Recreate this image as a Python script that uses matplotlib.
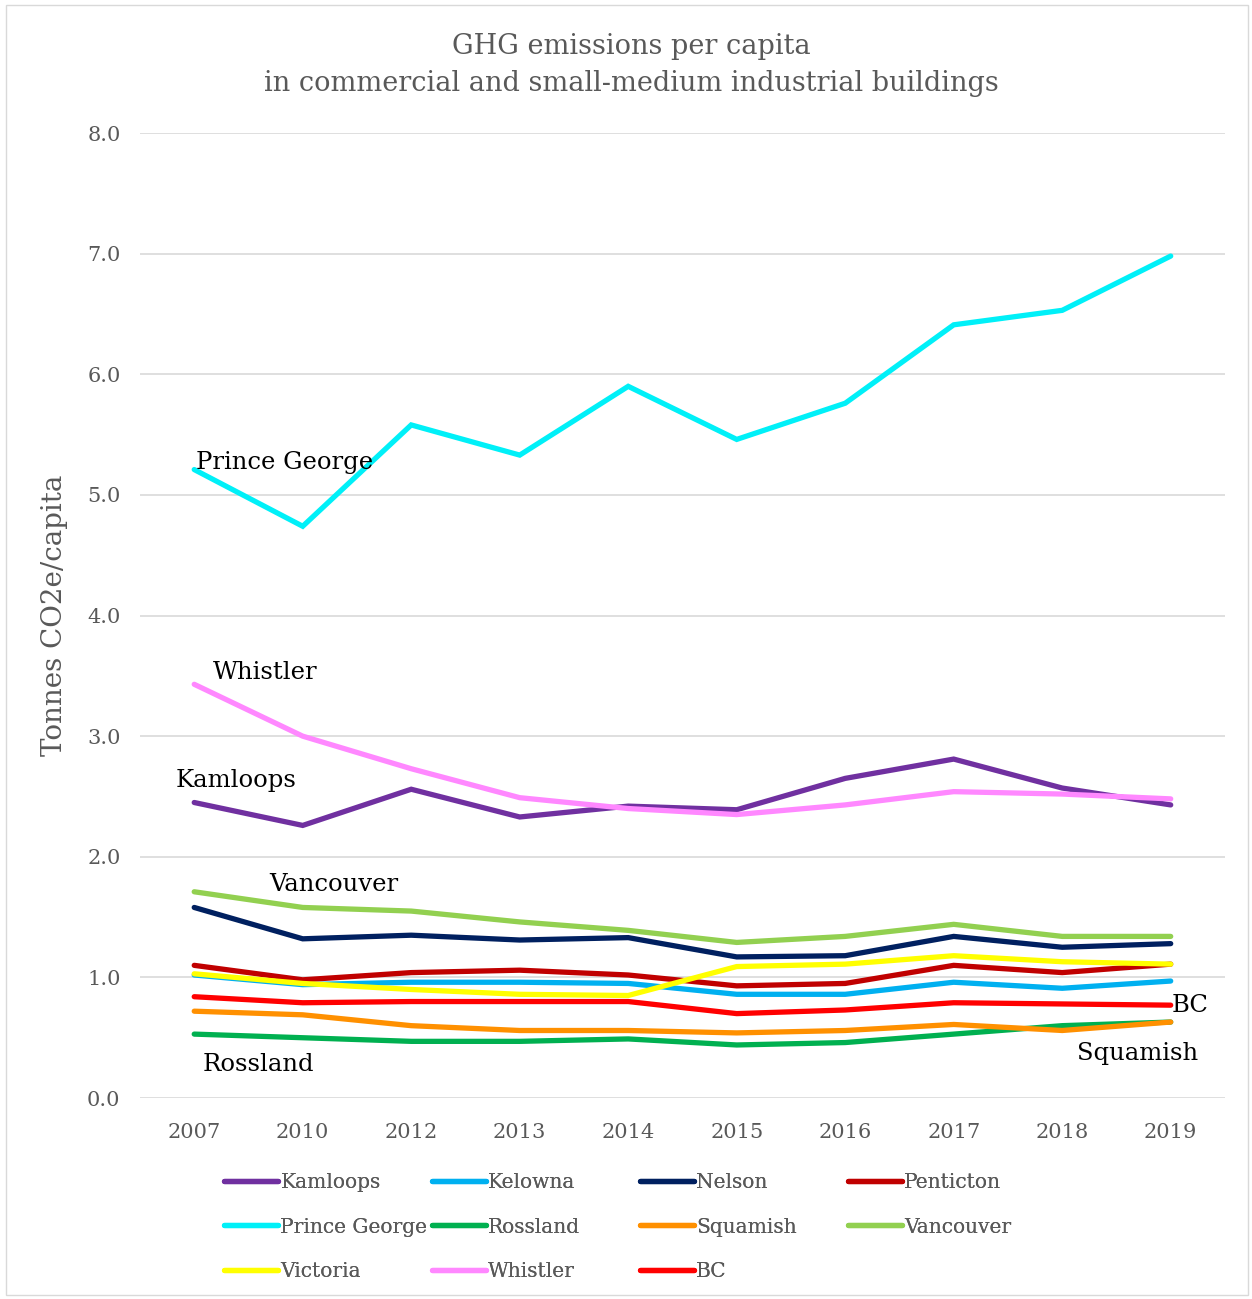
import matplotlib.pyplot as plt
from matplotlib.patches import Rectangle

years = ['2007', '2010', '2012', '2013', '2014', '2015', '2016', '2017', '2018', '2019']

kamloops = [2.45, 2.26, 2.56, 2.33, 2.42, 2.39, 2.65, 2.81, 2.57, 2.43]
kelowna = [1.02, 0.94, 0.96, 0.96, 0.95, 0.86, 0.86, 0.96, 0.91, 0.97]
nelson = [1.58, 1.32, 1.35, 1.31, 1.33, 1.17, 1.18, 1.34, 1.25, 1.28]
penticton = [1.10, 0.98, 1.04, 1.06, 1.02, 0.93, 0.95, 1.10, 1.04, 1.11]
prince_george = [5.21, 4.74, 5.58, 5.33, 5.90, 5.46, 5.76, 6.41, 6.53, 6.98]
rossland = [0.53, 0.50, 0.47, 0.47, 0.49, 0.44, 0.46, 0.53, 0.60, 0.63]
squamish = [0.72, 0.69, 0.60, 0.56, 0.56, 0.54, 0.56, 0.61, 0.56, 0.63]
vancouver = [1.71, 1.58, 1.55, 1.46, 1.39, 1.29, 1.34, 1.44, 1.34, 1.34]
victoria = [1.03, 0.95, 0.90, 0.86, 0.85, 1.09, 1.11, 1.18, 1.13, 1.11]
whistler = [3.43, 3.00, 2.73, 2.49, 2.40, 2.35, 2.43, 2.54, 2.52, 2.48]
bc = [0.84, 0.79, 0.80, 0.80, 0.80, 0.70, 0.73, 0.79, 0.78, 0.77]

series = [
    ('Kamloops', kamloops, '#7030A0'),
    ('Kelowna', kelowna, '#00B0F0'),
    ('Nelson', nelson, '#002060'),
    ('Penticton', penticton, '#C00000'),
    ('Prince George', prince_george, '#00F0F8'),
    ('Rossland', rossland, '#00B050'),
    ('Squamish', squamish, '#FF9000'),
    ('Vancouver', vancouver, '#92D050'),
    ('Victoria', victoria, '#FFFF00'),
    ('Whistler', whistler, '#FF88FF'),
    ('BC', bc, '#FF0000'),
]

# labels written on the chart: text, x index, y value
callouts = [
    ('Prince George', 0.02, 5.27),
    ('Whistler', 0.17, 3.53),
    ('Kamloops', -0.17, 2.63),
    ('Vancouver', 0.69, 1.77),
    ('Rossland', 0.08, 0.28),
    ('BC', 9.01, 0.77),
    ('Squamish', 8.14, 0.37),
]

plt.rcParams['font.family'] = ['DejaVu Serif']
grey = '#595959'

fig = plt.figure(figsize=(12.52, 12.99), dpi=100)
ax = fig.add_axes([0.1118, 0.1547, 0.8666, 0.7429])

x = list(range(len(years)))
lines = {}
for name, vals, col in series:
    ln, = ax.plot(x, vals, color=col, lw=3.8, solid_capstyle='round',
                  solid_joinstyle='miter', label=name)
    lines[name] = ln

ax.set_xlim(-0.5, len(years) - 0.5)
ax.set_ylim(0, 8)
ax.set_yticks([i for i in range(9)])
ax.set_yticklabels([f'{i:.1f}' for i in range(9)])
ax.set_xticks(x)
ax.set_xticklabels(years)
ax.grid(axis='y', color='#D9D9D9', lw=1.2)
ax.set_axisbelow(True)
for s in ax.spines.values():
    s.set_visible(False)
ax.tick_params(length=0, labelsize=15, colors=grey)
ax.tick_params(axis='x', pad=18)
ax.tick_params(axis='y', pad=14)
ax.set_ylabel('Tonnes CO2e/capita', fontsize=20, color=grey, labelpad=14)

for txt, xi, yv in callouts:
    ax.text(xi, yv, txt, fontsize=17.5, color='black', va='center', ha='left')

fig.text(0.504, 0.9645, 'GHG emissions per capita', ha='center', va='center',
         fontsize=19.5, color=grey)
fig.text(0.504, 0.936, 'in commercial and small-medium industrial buildings',
         ha='center', va='center', fontsize=19.5, color=grey)

columns = [
    ['Kamloops', 'Prince George', 'Victoria'],
    ['Kelowna', 'Rossland', 'Whistler'],
    ['Nelson', 'Squamish', 'BC'],
    ['Penticton', 'Vancouver'],
]
col_x = [0.179, 0.345, 0.511, 0.677]
for cx, names in zip(col_x, columns):
    leg = fig.legend([lines[n] for n in names], names, loc='upper left',
                     bbox_to_anchor=(cx, 0.0972), frameon=False, fontsize=14.5,
                     handlelength=2.7, handletextpad=0.1, labelspacing=1.28,
                     borderaxespad=0, borderpad=0)
    for t in leg.get_texts():
        t.set_color(grey)
    fig.add_artist(leg)

fig.add_artist(Rectangle((0.005, 0.003), 0.992, 0.993, transform=fig.transFigure,
                         fill=False, edgecolor='#D9D9D9', lw=1))

fig.savefig('out.png', dpi=100)
